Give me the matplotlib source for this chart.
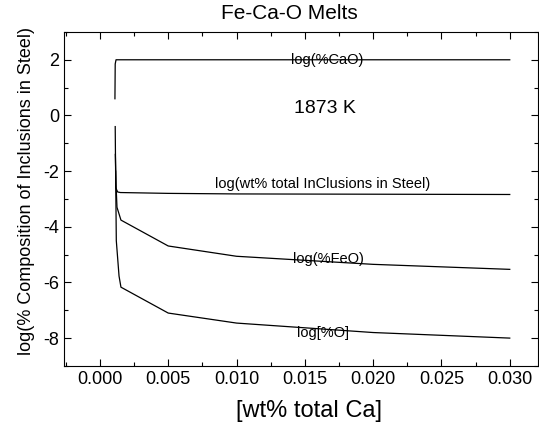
import matplotlib
matplotlib.use("Agg")
import matplotlib.pyplot as plt
from matplotlib.ticker import MultipleLocator

plt.rcParams['font.family'] = ['Liberation Sans', 'DejaVu Sans']
plt.rcParams['axes.unicode_minus'] = False

cao_x = [0.00110, 0.00112, 0.00118, 0.0015, 0.005, 0.010, 0.030]
cao_y = [0.6, 1.85, 2.0, 2.0, 2.0, 2.0, 2.0]

tot_x = [0.00112, 0.00116, 0.0013, 0.0015, 0.005, 0.010, 0.030]
tot_y = [-0.4, -2.6, -2.75, -2.77, -2.80, -2.82, -2.84]

feo_x = [0.00113, 0.00118, 0.00125, 0.00154, 0.005, 0.010, 0.020, 0.030]
feo_y = [-1.4, -2.5, -3.3, -3.76, -4.69, -5.06, -5.35, -5.53]

o_x = [0.00115, 0.00120, 0.00140, 0.00154, 0.005, 0.010, 0.020, 0.030]
o_y = [-2.0, -4.5, -5.77, -6.17, -7.10, -7.46, -7.80, -8.00]

fig = plt.figure(figsize=(5.39, 4.26), dpi=100)
ax = fig.add_axes([0.1187, 0.141, 0.879, 0.784])

for xs, ys in [(cao_x, cao_y), (tot_x, tot_y), (feo_x, feo_y), (o_x, o_y)]:
    ax.plot(xs, ys, color='black', lw=0.9)

ax.text(0.0166, 2.0, 'log(%CaO)', ha='center', va='center', fontsize=10.5)
ax.text(0.0165, 0.25, '1873 K', ha='center', va='center', fontsize=14)
ax.text(0.0163, -2.48, 'log(wt% total InClusions in Steel)', ha='center', va='center', fontsize=10.5)
ax.text(0.0167, -5.17, 'log(%FeO)', ha='center', va='center', fontsize=10.5)
ax.text(0.0163, -7.8, 'log[%O]', ha='center', va='center', fontsize=10.5)

ax.set_xlim(-0.00263, 0.03205)
ax.set_ylim(-9, 3)
ax.xaxis.set_minor_locator(MultipleLocator(0.0025))
ax.yaxis.set_minor_locator(MultipleLocator(1))
ax.set_xticks([0.000, 0.005, 0.010, 0.015, 0.020, 0.025, 0.030])
ax.set_xticklabels(['0.000', '0.005', '0.010', '0.015', '0.020', '0.025', '0.030'])
ax.set_yticks([2, 0, -2, -4, -6, -8])
ax.tick_params(which='both', direction='in', top=True, right=True, labelsize=13)
ax.tick_params(which='major', length=5, width=0.8)
ax.tick_params(which='minor', length=3, width=0.8)

ax.set_xlabel('[wt% total Ca]', fontsize=17, labelpad=9, x=0.517)
ax.set_ylabel('log(% Composition of Inclusions in Steel)', fontsize=13, labelpad=6, y=0.525)
ax.set_title('Fe-Ca-O Melts', fontsize=15, pad=9, x=0.476)

fig.savefig('out.png', dpi=100)
